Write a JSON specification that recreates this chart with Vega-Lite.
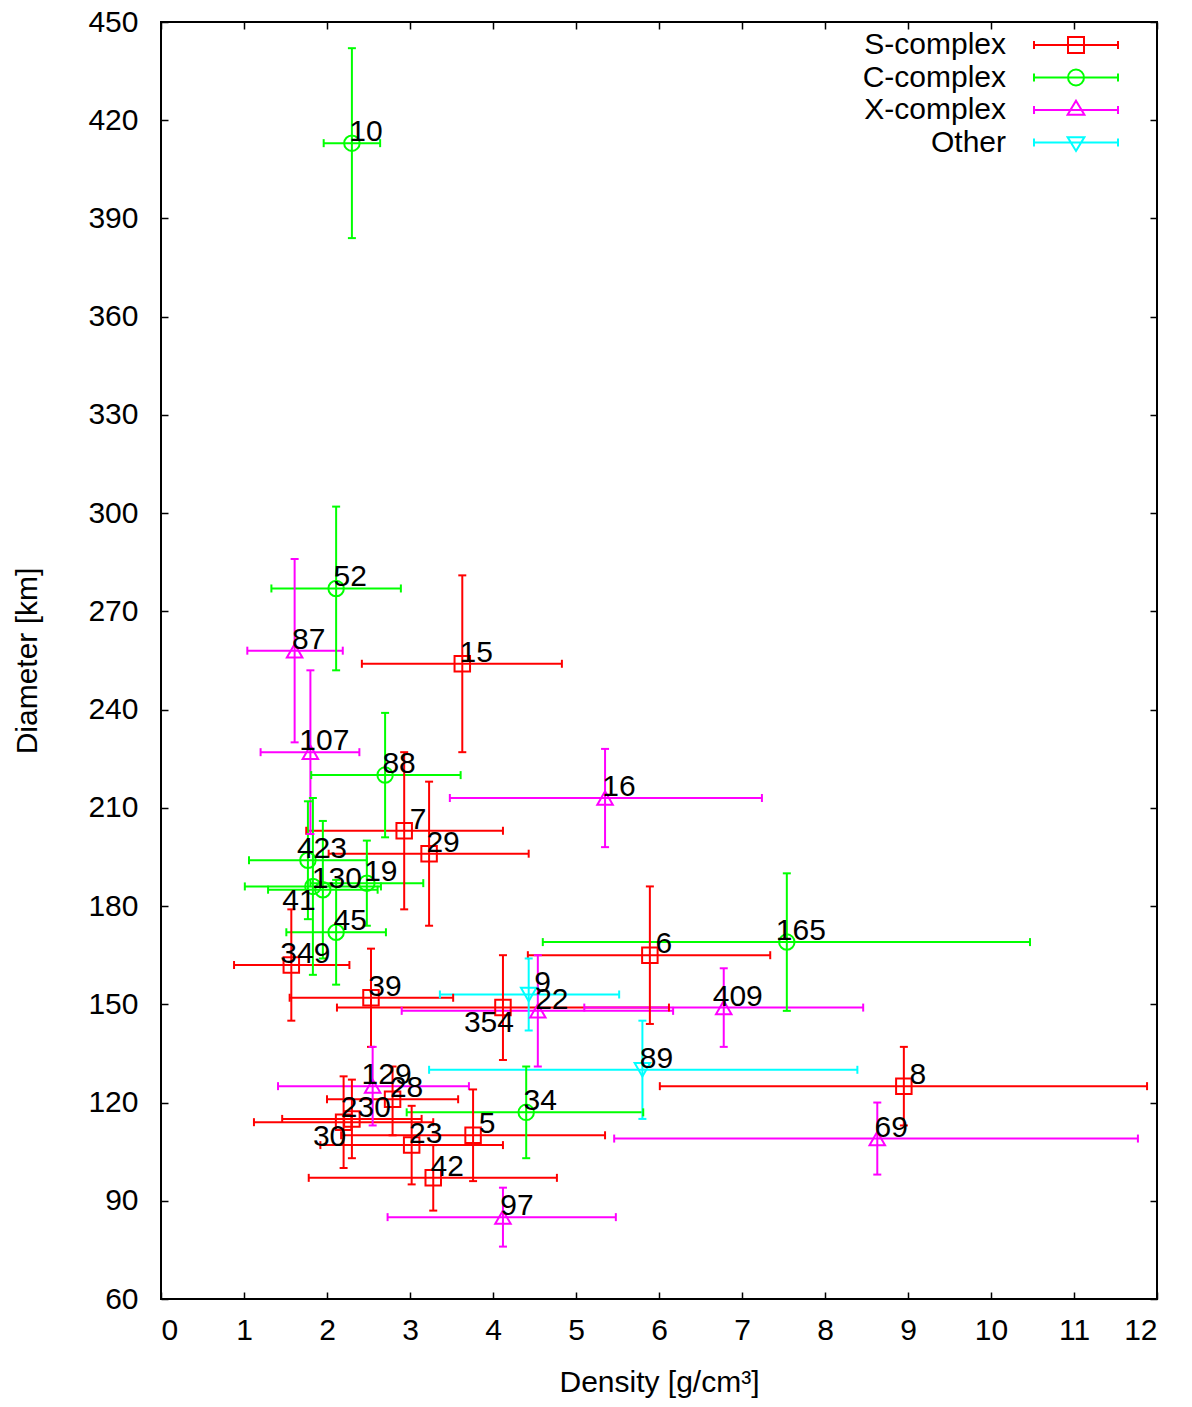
{
  "$schema": "https://vega.github.io/schema/vega-lite/v6.json",
  "width": 996,
  "height": 1277,
  "autosize": "none",
  "padding": {"left": 161, "top": 22, "right": 35, "bottom": 108},
  "background": "white",
  "config": {
    "view": {"stroke": "black", "strokeWidth": 2},
    "font": "Liberation Sans",
    "axis": {
      "grid": false,
      "domain": false,
      "tickColor": "black",
      "tickWidth": 1.5,
      "tickSize": -7,
      "labelFont": "Liberation Sans",
      "labelFontSize": 30,
      "labelColor": "black",
      "titleFont": "Liberation Sans",
      "titleFontSize": 30,
      "titleFontWeight": "normal",
      "titleColor": "black"
    }
  },
  "data": {
    "values": [
      {"id": "15", "type": "S-complex", "den": 3.63, "denLo": 2.42, "denHi": 4.83, "dia": 254, "diaLo": 227, "diaHi": 281},
      {"id": "7", "type": "S-complex", "den": 2.93, "denLo": 1.75, "denHi": 4.12, "dia": 203, "diaLo": 179, "diaHi": 227},
      {"id": "29", "type": "S-complex", "den": 3.23, "denLo": 2.02, "denHi": 4.43, "dia": 196, "diaLo": 174, "diaHi": 218},
      {"id": "6", "type": "S-complex", "den": 5.89, "denLo": 4.42, "denHi": 7.34, "dia": 165, "diaLo": 144, "diaHi": 186},
      {"id": "349", "type": "S-complex", "den": 1.57, "denLo": 0.88, "denHi": 2.27, "dia": 162, "diaLo": 145, "diaHi": 179},
      {"id": "39", "type": "S-complex", "den": 2.53, "denLo": 1.55, "denHi": 3.52, "dia": 152, "diaLo": 137, "diaHi": 167},
      {"id": "354", "type": "S-complex", "den": 4.12, "denLo": 2.12, "denHi": 6.12, "dia": 149, "diaLo": 133, "diaHi": 165},
      {"id": "8", "type": "S-complex", "den": 8.95, "denLo": 6.01, "denHi": 11.88, "dia": 125, "diaLo": 113, "diaHi": 137},
      {"id": "28", "type": "S-complex", "den": 2.79, "denLo": 2.0, "denHi": 3.58, "dia": 121, "diaLo": 110, "diaHi": 131},
      {"id": "230", "type": "S-complex", "den": 2.30, "denLo": 1.46, "denHi": 3.14, "dia": 115, "diaLo": 103, "diaHi": 127},
      {"id": "30", "type": "S-complex", "den": 2.20, "denLo": 1.12, "denHi": 3.28, "dia": 114, "diaLo": 100, "diaHi": 128},
      {"id": "5", "type": "S-complex", "den": 3.76, "denLo": 2.17, "denHi": 5.35, "dia": 110, "diaLo": 96, "diaHi": 124},
      {"id": "23", "type": "S-complex", "den": 3.02, "denLo": 1.92, "denHi": 4.12, "dia": 107, "diaLo": 95, "diaHi": 119},
      {"id": "42", "type": "S-complex", "den": 3.28, "denLo": 1.78, "denHi": 4.77, "dia": 97, "diaLo": 87, "diaHi": 107},
      {"id": "10", "type": "C-complex", "den": 2.30, "denLo": 1.96, "denHi": 2.64, "dia": 413, "diaLo": 384, "diaHi": 442},
      {"id": "52", "type": "C-complex", "den": 2.11, "denLo": 1.33, "denHi": 2.89, "dia": 277, "diaLo": 252, "diaHi": 302},
      {"id": "88", "type": "C-complex", "den": 2.70, "denLo": 1.81, "denHi": 3.61, "dia": 220, "diaLo": 201, "diaHi": 239},
      {"id": "423", "type": "C-complex", "den": 1.77, "denLo": 1.06, "denHi": 2.48, "dia": 194, "diaLo": 176, "diaHi": 212},
      {"id": "130", "type": "C-complex", "den": 1.95, "denLo": 1.29, "denHi": 2.61, "dia": 185, "diaLo": 164, "diaHi": 206},
      {"id": "41", "type": "C-complex", "den": 1.83, "denLo": 1.01, "denHi": 2.65, "dia": 186, "diaLo": 159, "diaHi": 213},
      {"id": "19", "type": "C-complex", "den": 2.48, "denLo": 1.80, "denHi": 3.16, "dia": 187, "diaLo": 174, "diaHi": 200},
      {"id": "45", "type": "C-complex", "den": 2.11, "denLo": 1.51, "denHi": 2.71, "dia": 172, "diaLo": 156, "diaHi": 188},
      {"id": "165", "type": "C-complex", "den": 7.54, "denLo": 4.60, "denHi": 10.47, "dia": 169, "diaLo": 148, "diaHi": 190},
      {"id": "34", "type": "C-complex", "den": 4.40, "denLo": 2.96, "denHi": 5.81, "dia": 117, "diaLo": 103, "diaHi": 131},
      {"id": "87", "type": "X-complex", "den": 1.61, "denLo": 1.04, "denHi": 2.19, "dia": 258, "diaLo": 230, "diaHi": 286},
      {"id": "107", "type": "X-complex", "den": 1.80, "denLo": 1.20, "denHi": 2.39, "dia": 227, "diaLo": 202, "diaHi": 252},
      {"id": "16", "type": "X-complex", "den": 5.35, "denLo": 3.48, "denHi": 7.24, "dia": 213, "diaLo": 198, "diaHi": 228},
      {"id": "22", "type": "X-complex", "den": 4.54, "denLo": 2.90, "denHi": 6.17, "dia": 148, "diaLo": 131, "diaHi": 165},
      {"id": "409", "type": "X-complex", "den": 6.78, "denLo": 5.10, "denHi": 8.46, "dia": 149, "diaLo": 137, "diaHi": 161},
      {"id": "129", "type": "X-complex", "den": 2.55, "denLo": 1.41, "denHi": 3.71, "dia": 125, "diaLo": 113, "diaHi": 137},
      {"id": "69", "type": "X-complex", "den": 8.63, "denLo": 5.46, "denHi": 11.77, "dia": 109, "diaLo": 98, "diaHi": 120},
      {"id": "97", "type": "X-complex", "den": 4.12, "denLo": 2.73, "denHi": 5.48, "dia": 85, "diaLo": 76, "diaHi": 94},
      {"id": "9", "type": "Other", "den": 4.43, "denLo": 3.36, "denHi": 5.52, "dia": 153, "diaLo": 142, "diaHi": 164},
      {"id": "89", "type": "Other", "den": 5.80, "denLo": 3.23, "denHi": 8.39, "dia": 130, "diaLo": 115, "diaHi": 145}
    ]
  },
  "resolve": {"scale": {"color": "independent", "shape": "independent"}},
  "layer": [
    {
      "layer": [
        {
          "mark": {"type": "rule", "strokeWidth": 2},
          "encoding": {
            "x": {"field": "denLo", "type": "quantitative",
              "scale": {"domain": [0, 12], "nice": false, "zero": false},
              "axis": {"orient": "bottom", "values": [0,1,2,3,4,5,6,7,8,9,10,11,12], "title": "Density [g/cm³]", "labelPadding": 23, "titlePadding": 22}},
            "x2": {"field": "denHi"},
            "y": {"field": "dia", "type": "quantitative",
              "scale": {"domain": [60, 450], "nice": false, "zero": false},
              "axis": {"orient": "left", "values": [60,90,120,150,180,210,240,270,300,330,360,390,420,450], "title": "Diameter [km]", "labelPadding": 30, "titlePadding": 45}},
            "color": {"field": "type", "type": "nominal",
              "scale": {"domain": ["S-complex", "C-complex", "X-complex", "Other"], "range": ["#ff0000", "#00ff00", "#ff00ff", "#00ffff"]},
              "legend": null}
          }
        },
        {
          "mark": {"type": "rule", "strokeWidth": 2},
          "encoding": {
            "x": {"field": "den", "type": "quantitative",
              "axis": {"orient": "top", "values": [0,1,2,3,4,5,6,7,8,9,10,11,12], "labels": false, "title": null}},
            "y": {"field": "diaLo", "type": "quantitative",
              "axis": {"orient": "right", "values": [60,90,120,150,180,210,240,270,300,330,360,390,420,450], "labels": false, "title": null}},
            "y2": {"field": "diaHi"},
            "color": {"field": "type", "type": "nominal", "legend": null}
          }
        },
        {
          "mark": {"type": "tick", "orient": "vertical", "size": 8, "thickness": 2, "opacity": 1},
          "encoding": {
            "x": {"field": "denLo", "type": "quantitative", "axis": null},
            "y": {"field": "dia", "type": "quantitative", "axis": null},
            "color": {"field": "type", "type": "nominal", "legend": null}
          }
        },
        {
          "mark": {"type": "tick", "orient": "vertical", "size": 8, "thickness": 2, "opacity": 1},
          "encoding": {
            "x": {"field": "denHi", "type": "quantitative", "axis": null},
            "y": {"field": "dia", "type": "quantitative", "axis": null},
            "color": {"field": "type", "type": "nominal", "legend": null}
          }
        },
        {
          "mark": {"type": "tick", "orient": "horizontal", "size": 8, "thickness": 2, "opacity": 1},
          "encoding": {
            "x": {"field": "den", "type": "quantitative", "axis": null},
            "y": {"field": "diaLo", "type": "quantitative", "axis": null},
            "color": {"field": "type", "type": "nominal", "legend": null}
          }
        },
        {
          "mark": {"type": "tick", "orient": "horizontal", "size": 8, "thickness": 2, "opacity": 1},
          "encoding": {
            "x": {"field": "den", "type": "quantitative", "axis": null},
            "y": {"field": "diaHi", "type": "quantitative", "axis": null},
            "color": {"field": "type", "type": "nominal", "legend": null}
          }
        },
        {
          "mark": {"type": "point", "filled": false, "size": 240, "strokeWidth": 2, "opacity": 1},
          "encoding": {
            "x": {"field": "den", "type": "quantitative", "axis": null},
            "y": {"field": "dia", "type": "quantitative", "axis": null},
            "color": {"field": "type", "type": "nominal", "legend": null},
            "shape": {"field": "type", "type": "nominal",
              "scale": {"domain": ["S-complex", "C-complex", "X-complex", "Other"], "range": ["square", "circle", "triangle-up", "triangle-down"]},
              "legend": null}
          }
        },
        {
          "transform": [{"filter": "datum.id !== '354' && datum.id !== '30' && datum.id !== '41'"}],
          "mark": {"type": "text", "align": "center", "baseline": "alphabetic", "dx": 14, "dy": -2, "fontSize": 30, "font": "Liberation Sans", "color": "black"},
          "encoding": {
            "x": {"field": "den", "type": "quantitative", "axis": null},
            "y": {"field": "dia", "type": "quantitative", "axis": null},
            "text": {"field": "id", "type": "nominal"}
          }
        },
        {
          "transform": [{"filter": "datum.id === '354' || datum.id === '30' || datum.id === '41'"}],
          "mark": {"type": "text", "align": "center", "baseline": "alphabetic", "dx": -14, "dy": 24, "fontSize": 30, "font": "Liberation Sans", "color": "black"},
          "encoding": {
            "x": {"field": "den", "type": "quantitative", "axis": null},
            "y": {"field": "dia", "type": "quantitative", "axis": null},
            "text": {"field": "id", "type": "nominal"}
          }
        }
      ]
    },
    {
      "mark": {"type": "point", "filled": false, "size": 240, "strokeWidth": 2, "opacity": 0},
      "encoding": {
        "x": {"field": "den", "type": "quantitative", "axis": null},
        "y": {"field": "dia", "type": "quantitative", "axis": null},
        "color": {"field": "type", "type": "nominal",
          "scale": {"domain": ["S-complex", "C-complex", "X-complex", "Other"], "range": ["#ff0000", "#00ff00", "#ff00ff", "#00ffff"]},
          "legend": {"orient": "none", "legendX": 900, "legendY": 8, "title": null, "padding": 0, "symbolSize": 256, "symbolStrokeWidth": 2, "symbolOpacity": 1, "labelFontSize": 30, "labelFont": "Liberation Sans", "labelColor": "black", "labelLimit": 0, "rowPadding": 2.5, "labelAlign": "right", "labelOffset": -85}},
        "shape": {"field": "type", "type": "nominal",
          "scale": {"domain": ["S-complex", "C-complex", "X-complex", "Other"], "range": [
            "M-5.25,0H5.25M-5.25,-0.5V0.5M5.25,-0.5V0.5M-1,-1H1V1H-1Z",
            "M-5.25,0H5.25M-5.25,-0.5V0.5M5.25,-0.5V0.5M1,0A1,1,0,1,1,-1,0A1,1,0,1,1,1,0Z",
            "M-5.25,0H5.25M-5.25,-0.5V0.5M5.25,-0.5V0.5M0,-1.15L1.05,0.6L-1.05,0.6Z",
            "M-5.25,0H5.25M-5.25,-0.5V0.5M5.25,-0.5V0.5M0,1.05L1.05,-0.67L-1.05,-0.67Z"]},
          "legend": {"orient": "none", "legendX": 900, "legendY": 8, "title": null, "padding": 0, "symbolSize": 256, "symbolStrokeWidth": 2, "symbolOpacity": 1, "labelFontSize": 30, "labelFont": "Liberation Sans", "labelColor": "black", "labelLimit": 0, "rowPadding": 2.5, "labelAlign": "right", "labelOffset": -85}}
      }
    }
  ]
}
